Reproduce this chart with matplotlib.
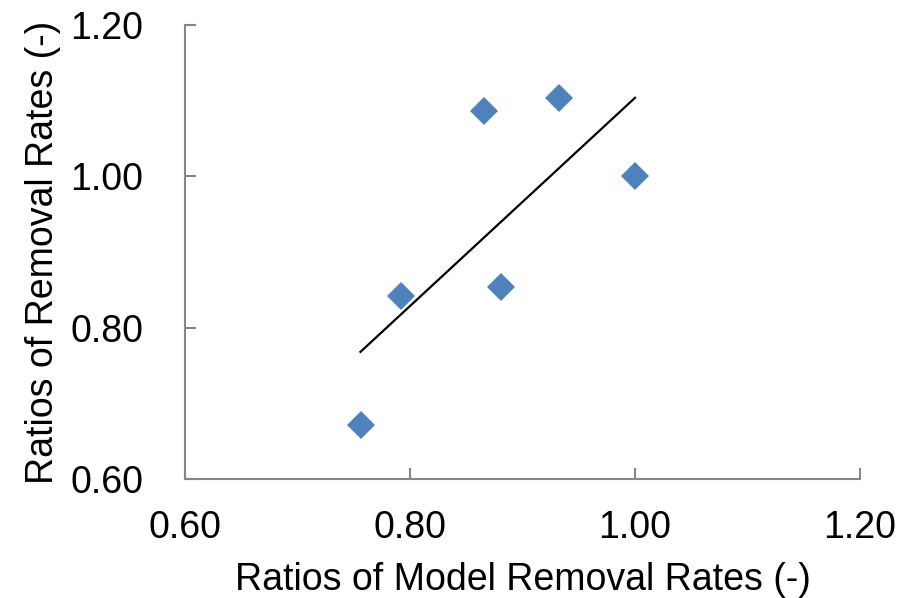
import numpy as np
import matplotlib
matplotlib.use("Agg")
import matplotlib.pyplot as plt

plt.rcParams['font.family'] = ['Liberation Sans', 'DejaVu Sans']

model_ratio = [0.756, 0.792, 0.866, 0.881, 0.932, 1.000]
removal_ratio = [0.671, 0.842, 1.087, 0.854, 1.104, 1.001]
ticks = [0.60, 0.80, 1.00, 1.20]
tick_labels = ["0.60", "0.80", "1.00", "1.20"]

fig = plt.figure(figsize=(9.06, 5.98), dpi=100)
ax = fig.add_axes([185/906, 1-479/598, (860-185)/906, (479-25)/598])

ax.plot(model_ratio, removal_ratio, linestyle='none', marker='D',
        markersize=14, color='#4F81BD', markeredgewidth=0, zorder=3)

coef = np.polyfit(model_ratio, removal_ratio, 1)
xs = np.array([min(model_ratio), max(model_ratio)])
ax.plot(xs, np.polyval(coef, xs), color='black', linewidth=1.6, zorder=2)

ax.set_xlim(0.60, 1.20)
ax.set_ylim(0.60, 1.20)
ax.set_xticks(ticks)
ax.set_xticklabels(tick_labels)
ax.set_yticks(ticks)
ax.set_yticklabels(tick_labels)

for s in ['top', 'right']:
    ax.spines[s].set_visible(False)
for s in ['left', 'bottom']:
    ax.spines[s].set_color('#868686')
    ax.spines[s].set_linewidth(1.5)

ax.tick_params(axis='both', direction='in', length=8, width=1.5,
               color='#868686', labelsize=27)
ax.tick_params(axis='x', pad=22)
ax.tick_params(axis='y', pad=30)

ax.set_xlabel('Ratios of Model Removal Rates (-)', fontsize=27, labelpad=12)
ax.set_ylabel('Ratios of Removal Rates (-)', fontsize=27, labelpad=7)

fig.savefig('out.png', dpi=100)
